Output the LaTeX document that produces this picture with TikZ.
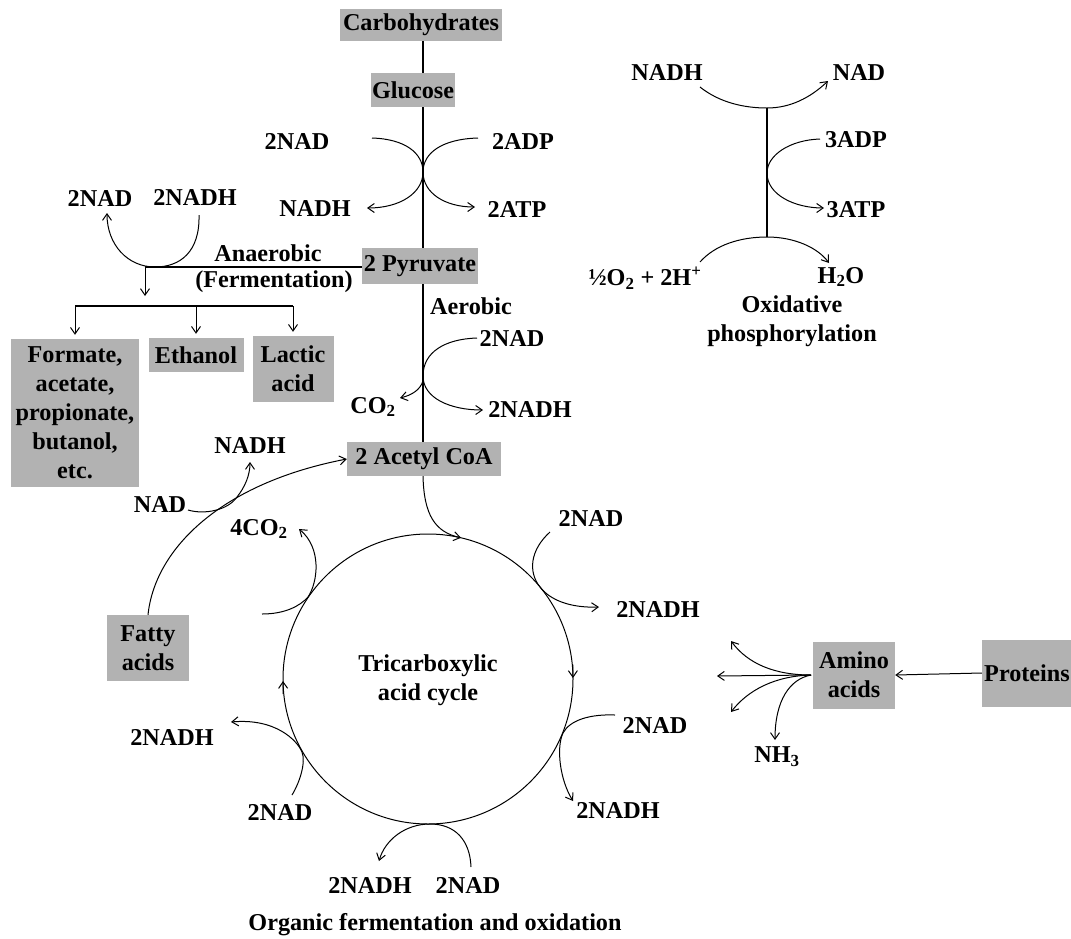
\documentclass[tikz,border=0pt]{standalone}
\usepackage{fontspec}
\setmainfont{Liberation Serif}
\usetikzlibrary{arrows.meta}
\newcommand{\mysub}[1]{\textsubscript{#1}}
\begin{document}
\begin{tikzpicture}[x=1pt,y=-1pt,
  every node/.style={font=\fontsize{24.2}{29}\selectfont\bfseries, inner sep=0pt, align=center},
  box/.style={fill=black!30, inner sep=1pt},
  ln/.style={line width=1.1pt},
  cv/.style={line width=1pt},
  arr/.style={line width=1pt,-{Straight Barb[length=6.5pt,width=9pt]}}
]
\useasboundingbox[fill=white] (0,0) rectangle (1071,938);

% ---------- boxes ----------
\node[box,minimum width=162pt,minimum height=32pt] (carb) at (421,25) {Carbohydrates};
\node[box,minimum width=80pt,minimum height=34pt] (gluc) at (413,90) {Glucose};
\node[box,minimum width=116pt,minimum height=36pt] (pyr) at (420,266) {2 Pyruvate};
\node[box,minimum width=154pt,minimum height=34pt] (acet) at (424,459) {2 Acetyl CoA};
\node[box,minimum width=128pt,minimum height=148pt] (form) at (75,413) {Formate,\\acetate,\\propionate,\\butanol,\\etc.};
\node[box,minimum width=95pt,minimum height=34pt] (eth) at (196,355) {Ethanol};
\node[box,minimum width=81pt,minimum height=66pt] (lac) at (293,369) {Lactic\\acid};
\node[box,minimum width=82pt,minimum height=66pt] (fatty) at (148,648) {Fatty\\acids};
\node[box,minimum width=82pt,minimum height=67pt] (amino) at (854,675) {Amino\\acids};
\node[box,minimum width=90pt,minimum height=67pt] (prot) at (1027,673) {Proteins};

% ---------- labels ----------
\node (t2nad) at (297,142) {2NAD};
\node (t2adp) at (523,142) {2ADP};
\node (tnadh) at (315,209) {NADH};
\node (t2atp) at (517,209) {2ATP};
\node (f2nad) at (100,199) {2NAD};
\node (f2nadh) at (195,198) {2NADH};
\node (anaer) at (268,253) {Anaerobic};
\node (ferm) at (274,282) {(Fermentation)};
\node (aer) at (471,306) {Aerobic};
\node (a2nad) at (512,339) {2NAD};
\node (aco2) at (373,407) {CO\mysub{2}};
\node (a2nadh) at (530,410) {2NADH};
\node (fnadh) at (250,446) {NADH};
\node (fnad) at (160,505) {NAD};
\node (co2four) at (259,529) {4CO\mysub{2}};
\node (c1nad) at (591,519) {2NAD};
\node (c1nadh) at (658,610) {2NADH};
\node (c2nad) at (655,725) {2NAD};
\node (c2nadh) at (618,810) {2NADH};
\node (c3nadh) at (370,885) {2NADH};
\node (c3nad) at (468,885) {2NAD};
\node (c4nadh) at (172,737) {2NADH};
\node (c4nad) at (280,812) {2NAD};
\node (title) at (435,925) {Organic fermentation and oxidation};
\node (onadh) at (667,73) {NADH};
\node (onad) at (859,73) {NAD};
\node (oadp) at (856,140) {3ADP};
\node (oatp) at (856,210) {3ATP};
\node (oo2) at (645,278) {½O\mysub{2} + 2H\textsuperscript{+}};
\node (oh2o) at (841,277) {H\mysub{2}O};
\node (otitle) at (792,321) {Oxidative\\phosphorylation};
\node (nh3) at (777,757) {NH\mysub{3}};

% ---------- main vertical line ----------
\coordinate (main) at (423,0);
\draw[ln] (carb.south -| main) -- (gluc.north -| main);
\draw[ln] (gluc.south -| main) -- (pyr.north -| main);
\draw[ln] (pyr.south -| main) -- (acet.north -| main);

% glycolysis crossing
\coordinate (gx) at (423,172);
\draw[cv] (372,138) .. controls (405,139) and (423,153) .. (gx);
\draw[arr] (gx) .. controls (423,193) and (400,208) .. (367,208);
\draw[cv] (478,138) .. controls (442,139) and (423,153) .. (gx);
\draw[arr] (gx) .. controls (423,193) and (445,207) .. (475,207);

% aerobic step
\coordinate (ax) at (423,376);
\draw[cv] (477,338) .. controls (445,339) and (423,352) .. (ax);
\draw[arr] (ax) .. controls (423,398) and (450,410) .. (483,410);
\draw[arr] (423,381) .. controls (420,390) and (412,395) .. (400,398);

% ---------- fermentation ----------
\coordinate (fj) at (145,267);
\draw[ln] (pyr.west |- fj) -- (fj);
\draw[arr] (199,215) .. controls (200,252) and (180,267) .. (155,267) .. controls (128,267) and (107,245) .. (107,213);
\draw[arr] (fj) -- (145,296);
\coordinate (bar) at (0,306);
\draw[ln] (form.north |- bar) -- (lac.north |- bar);
\draw[arr] (form.north |- bar) -- ([yshift=4pt]form.north);
\draw[arr] (eth.north |- bar) -- ([yshift=4pt]eth.north);
\draw[arr] (lac.north |- bar) -- ([yshift=4pt]lac.north);

% ---------- TCA cycle ----------
\node[circle,draw,line width=1pt,minimum size=290pt,inner sep=0pt] (tca) at (428,679) {};
\node (tcatext) at (428,680) {Tricarboxylic\\acid cycle};
% direction arrows on cycle
\draw[arr] (572.8,664.5) -- (573,678);
\draw[arr] (283.2,694) -- (283,681);
% acetyl CoA into cycle
\draw[arr] (acet.south -| main) .. controls (424,515) and (435,532) .. (461,537.8);
% 4CO2 branch
\draw[arr] (262,614) .. controls (285,614) and (300,606) .. (308,597) .. controls (318,582) and (322,548) .. (299,529);
% right upper
\draw[arr] (550,532) .. controls (530,550) and (528,572) .. (540,587) .. controls (550,600) and (570,608) .. (599,607);
% right lower
\draw[arr] (615,715) .. controls (590,714) and (570,720) .. (563,733) .. controls (556,748) and (560,780) .. (573,801);
% bottom
\draw[arr] (471,867) .. controls (470,840) and (455,824) .. (430,824) .. controls (405,824) and (385,840) .. (379,861);
% left lower
\draw[arr] (292,795) .. controls (300,782) and (306,762) .. (302,752) .. controls (297,740) and (275,718) .. (231,722);

% ---------- fatty acids ----------
\draw[arr] (fatty.north) .. controls (155,548) and (222,483) .. (acet.west);
\draw[arr] (188,510) .. controls (205,515) and (228,510) .. (237,497) .. controls (245,487) and (250,475) .. (250,462);

% ---------- oxidative phosphorylation ----------
\coordinate (ot) at (767,108);
\coordinate (ob) at (767,237);
\draw[arr] (700,87) .. controls (720,103) and (745,108) .. (ot) .. controls (790,108) and (810,98) .. (828,81);
\draw[ln] (ot) -- (ob);
\draw[arr] (820,139) .. controls (790,140) and (767,155) .. (767,173) .. controls (767,195) and (795,208) .. (824,208);
\draw[arr] (700,262) .. controls (715,245) and (740,237) .. (ob) .. controls (795,237) and (818,248) .. (829,263);

% ---------- amino acids ----------
\draw[arr] (prot.west) -- (amino.east);
\coordinate (aw) at (811,675);
\draw[arr] (aw) .. controls (775,675) and (748,664) .. (731,641);
\draw[arr] (aw) -- (717,676);
\draw[arr] (aw) .. controls (775,676) and (748,690) .. (731,712);
\draw[arr] (aw) .. controls (790,679) and (775,700) .. (775,740);
\end{tikzpicture}
\end{document}
